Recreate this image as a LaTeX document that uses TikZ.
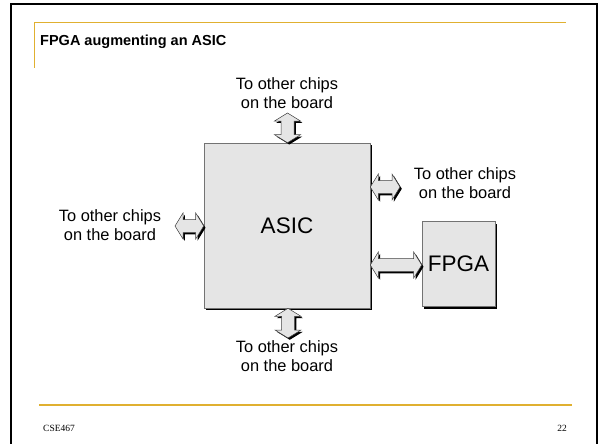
\documentclass[tikz,border=0pt]{standalone}
\usepackage{fontspec}
\setmainfont{Liberation Sans}
\newfontfamily\footfont{Liberation Serif}
\usetikzlibrary{calc,shadows}
\definecolor{gold}{RGB}{224,176,48}
\definecolor{boxgray}{RGB}{229,229,229}
\def\ah{13pt}\def\as{6.5pt}\def\al{8pt}
\newcommand\vdbl[2]{%
 \path[blk] let \p1=(#1), \p2=(#2) in
 (\x1,\y1) -- ({\x1-\ah},{\y1-\al}) -- ({\x1-\as},{\y1-\al}) -- ({\x1-\as},{\y2+\al}) -- ({\x1-\ah},{\y2+\al}) -- (\x1,\y2) -- ({\x1+\ah},{\y2+\al}) -- ({\x1+\as},{\y2+\al}) -- ({\x1+\as},{\y1-\al}) -- ({\x1+\ah},{\y1-\al}) -- cycle;}
\newcommand\hdbl[2]{%
 \path[blk] let \p1=(#1), \p2=(#2) in
 (\x1,\y1) -- ({\x1+\al},{\y1+\ah}) -- ({\x1+\al},{\y1+\as}) -- ({\x2-\al},{\y1+\as}) -- ({\x2-\al},{\y1+\ah}) -- (\x2,\y1) -- ({\x2-\al},{\y1-\ah}) -- ({\x2-\al},{\y1-\as}) -- ({\x1+\al},{\y1-\as}) -- ({\x1+\al},{\y1-\ah}) -- cycle;}
\begin{document}
\begin{tikzpicture}[x=1pt,y=-1pt,
  chip/.style={draw=black!55, line width=0.6pt, fill=boxgray, inner sep=0pt,
    drop shadow={shadow xshift=2pt, shadow yshift=-2pt, fill=black, opacity=1},
    font=\fontsize{22.5}{26}\selectfont},
  lbl/.style={font=\fontsize{16.4}{19}\selectfont, align=center, inner sep=0pt},
  blk/.style={draw=black!75, line width=0.5pt, fill=boxgray,
    drop shadow={shadow xshift=1.8pt, shadow yshift=-1.8pt, fill=black, opacity=1}}]
\useasboundingbox (0,0) rectangle (600,444);
% slide frame
\draw[line width=2pt] (11,450) -- (11,4) -- (597,4) -- (597,450);
\draw[gold, line width=1pt] (34,68) -- (34,23) -- (566,23);
\draw[gold, line width=1.2pt] (39,405) -- (572,405);
\node[anchor=west, font=\bfseries\fontsize{14.5}{17}\selectfont, inner sep=0pt] (title) at (40,42) {FPGA augmenting an ASIC};
\node[anchor=west, font=\footfont\fontsize{9.5}{11}\selectfont, inner sep=0pt] (foot) at (43,428) {CSE467};
\node[anchor=east, font=\footfont\fontsize{9.5}{11}\selectfont, inner sep=0pt] (page) at (567,428) {22};
% chips
\node[chip, minimum width=166pt, minimum height=165pt] (asic) at (287,225.5) {ASIC};
\node[chip, minimum width=73pt, minimum height=85pt] (fpga) at (458.5,264) {FPGA};
% labels
\node[lbl] (ltop) at (287,93) {To other chips\\on the board};
\node[lbl] (lright) at (465,183.5) {To other chips\\on the board};
\node[lbl] (lleft) at (110,225) {To other chips\\on the board};
\node[lbl] (lbot) at (287,356.5) {To other chips\\on the board};
% connector end points
\coordinate (ta) at (287.5,113);
\coordinate (tb) at (asic.north -| ta);
\coordinate (ra) at (asic.east |- 0,187);
\coordinate (rb) at (400,187);
\coordinate (la) at (175,226);
\coordinate (lb) at (asic.west |- la);
\coordinate (fa) at (asic.east |- 0,265);
\coordinate (fb) at (fpga.west |- fa);
\coordinate (ba) at (asic.south -| 288,0);
\coordinate (bb) at (288,338);
% block arrows
\vdbl{ta}{tb}
\hdbl{ra}{rb}
\hdbl{la}{lb}
\hdbl{fa}{fb}
\vdbl{ba}{bb}
\end{tikzpicture}
\end{document}
